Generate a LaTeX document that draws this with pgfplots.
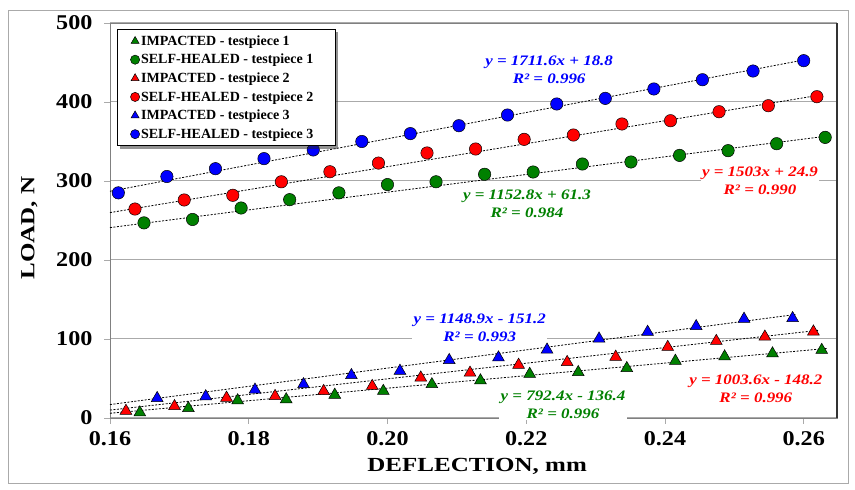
\documentclass[border=0pt]{standalone}
\usepackage{fontspec}
\setmainfont{Liberation Serif}
\newfontfamily\tickfont[FakeStretch=1.15]{Liberation Serif}
\newfontfamily\labfont[FakeStretch=1.25]{Liberation Serif}
\newfontfamily\eqfont[FakeStretch=1.17]{Liberation Serif}
\usepackage{pgfplots}
\pgfplotsset{compat=1.18}
\usetikzlibrary{shadows}
\definecolor{xlgreen}{RGB}{0,128,0}
\definecolor{xlred}{RGB}{255,0,0}
\definecolor{xlblue}{RGB}{0,0,255}
\definecolor{gridgray}{RGB}{170,170,170}
\pgfplotsset{
  tri/.style={only marks,mark=triangle*,mark size=6.8pt,
    mark options={draw=black,line width=0.5pt,fill=#1}},
  circ/.style={only marks,mark=*,mark size=6.2pt,
    mark options={draw=black,line width=0.5pt,fill=#1}},
  trend/.style={black,line width=0.8pt,dash pattern=on 2pt off 1.5pt,forget plot},
}
\tikzset{
  eqn/.style={font=\eqfont\bfseries\itshape\fontsize{14.5}{18.3}\selectfont,
    text=#1,fill=white,align=center,inner sep=1.5pt},
}
\newcommand\legtxt[1]{\makebox[190pt][l]{#1}}
\begin{document}
\begin{tikzpicture}[x=1pt,y=1pt]
\useasboundingbox (0,0) rectangle (855,490);
\draw[gridgray,line width=0.8pt] (8,7) rectangle (848,480);
\begin{axis}[
    at={(110pt,72pt)}, anchor=south west,
    width=727pt, height=395pt, scale only axis,
    xmin=0.16, xmax=0.2648, ymin=0, ymax=500,
    xtick={0.16,0.18,0.20,0.22,0.24,0.26},
    xticklabels={0.16,0.18,0.20,0.22,0.24,0.26},
    ytick={0,100,200,300,400,500},
    tick align=outside, major tick length=6pt,
    xtick pos=bottom, ytick pos=left,
    tick style={gridgray,line width=0.8pt},
    ymajorgrids, grid style={gridgray,line width=1pt},
    axis line style={gray,line width=0.8pt},
    ticklabel style={font=\tickfont\bfseries\fontsize{21}{21}\selectfont},
    xticklabel style={yshift=-4pt},
    yticklabel style={xshift=-8pt},
    /pgf/number format/assume math mode=true,
    xlabel={DEFLECTION, mm}, ylabel={LOAD, N},
    label style={font=\labfont\bfseries\fontsize{20}{20}\selectfont},
    xlabel style={at={(axis description cs:0.505,-0.1215)},anchor=center},
    ylabel style={at={(axis description cs:-0.111,0.481)},anchor=center},
    legend style={at={(0.009,0.985)},anchor=north west,
      draw=black,line width=1.1pt,fill=white,
      drop shadow={shadow xshift=3pt,shadow yshift=-3pt,fill=black!85},
      font=\bfseries\fontsize{14}{14}\selectfont,
      row sep=3.4pt,inner xsep=2pt,inner ysep=4pt},
    legend cell align=left,
    legend image code/.code={%
      \pgfpathrectangle{\pgfpoint{0pt}{-1pt}}{\pgfpoint{20pt}{2pt}}%
      \pgfusepath{use as bounding box}%
      \draw[#1,mark size=4.6pt] plot coordinates {(16pt,0pt)};},
    clip=false,
]
\addplot[tri=xlgreen] coordinates {
  (0.1643,6.9) (0.1713,12.4) (0.1784,22.2) (0.1854,23.5) (0.1924,29.3)
  (0.1994,34.1) (0.2064,42.6) (0.2134,47.5) (0.2205,55.7) (0.2275,57.9)
  (0.2345,63.0) (0.2415,72.3) (0.2486,77.8) (0.2555,81.6) (0.2626,86.0)};
\addplot[circ=xlgreen] coordinates {
  (0.1649,247.0) (0.1719,251.3) (0.1789,265.8) (0.1859,276.4) (0.1930,285.0)
  (0.2000,295.5) (0.2070,299.0) (0.2140,308.5) (0.2210,311.4) (0.2281,321.5)
  (0.2351,324.1) (0.2421,332.4) (0.2491,338.4) (0.2561,347.2) (0.2631,355.2)};
\addplot[tri=xlred] coordinates {
  (0.1623,8.9) (0.1693,14.9) (0.1768,25.5) (0.1838,27.7) (0.1908,34.0)
  (0.1978,40.4) (0.2048,51.0) (0.2119,57.2) (0.2189,67.2) (0.2259,70.7)
  (0.2329,77.4) (0.2404,89.8) (0.2474,97.4) (0.2544,102.9) (0.2614,109.3)};
\addplot[circ=xlred] coordinates {
  (0.1636,264.5) (0.1707,276.0) (0.1777,281.9) (0.1847,299.0) (0.1917,311.7)
  (0.1987,322.7) (0.2057,335.5) (0.2127,340.5) (0.2197,352.7) (0.2268,358.2)
  (0.2338,372.2) (0.2408,376.3) (0.2478,387.7) (0.2549,395.3) (0.2619,406.7)};
\addplot[tri=xlblue] coordinates {
  (0.1668,25.1) (0.1738,27.3) (0.1809,35.7) (0.1879,42.6) (0.1948,54.1)
  (0.2018,59.6) (0.2089,73.2) (0.2160,76.5) (0.2230,86.4) (0.2305,100.4)
  (0.2375,108.9) (0.2445,116.1) (0.2514,125.5) (0.2584,126.3)};
\addplot[circ=xlblue] coordinates {
  (0.1612,285.0) (0.1682,305.7) (0.1752,315.6) (0.1822,328.3) (0.1893,339.3)
  (0.1963,350.0) (0.2033,360.0) (0.2103,370.0) (0.2173,383.5) (0.2244,397.5)
  (0.2314,404.6) (0.2384,416.5) (0.2454,428.2) (0.2527,439.2) (0.2600,452.3)};
\legend{\legtxt{IMPACTED - testpiece 1},\legtxt{SELF-HEALED - testpiece 1},
  \legtxt{IMPACTED - testpiece 2},\legtxt{SELF-HEALED - testpiece 2},
  \legtxt{IMPACTED - testpiece 3},\legtxt{SELF-HEALED - testpiece 3}}
% trend lines
\addplot[trend] coordinates {(0.16,287) (0.2605,454)};
\addplot[trend] coordinates {(0.16,260) (0.2625,409)};
\addplot[trend] coordinates {(0.16,241) (0.2635,357)};
\addplot[trend] coordinates {(0.16,17) (0.2588,131)};
\addplot[trend] coordinates {(0.16,10) (0.2621,111)};
\addplot[trend] coordinates {(0.16,6) (0.2633,88)};
% darker right edge of the plot area
\draw[black!80,line width=1.4pt] (rel axis cs:1,0) -- (rel axis cs:1,1);
% equations
\node[eqn=xlblue] at (axis cs:0.2233,441) {y = 1711.6x + 18.8\\R² = 0.996};
\node[eqn=xlgreen] at (axis cs:0.2201,271) {y = 1152.8x + 61.3\\R² = 0.984};
\node[eqn=xlred] at (axis cs:0.2537,300.6) {y = 1503x + 24.9\\R² = 0.990};
\node[eqn=xlblue] at (axis cs:0.2133,114.4) {y = 1148.9x - 151.2\\R² = 0.993};
\node[eqn=xlred] at (axis cs:0.2531,36.6) {y = 1003.6x - 148.2\\R² = 0.996};
\node[eqn=xlgreen] at (axis cs:0.2253,16.8) {y = 792.4x - 136.4\\R² = 0.996};
\end{axis}
\end{tikzpicture}
\end{document}
